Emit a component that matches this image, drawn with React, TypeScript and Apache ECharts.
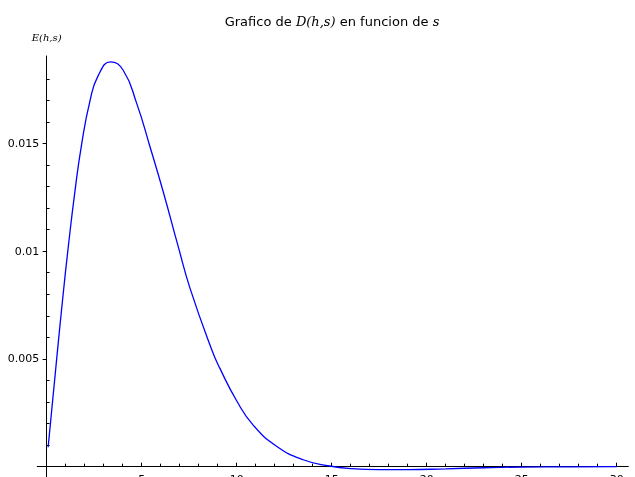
import React, { useEffect, useRef } from "react";
import * as echarts from "echarts";

const sValues = [0.08, 0.53, 0.87, 1.14, 1.49, 1.84, 2.28, 2.72, 3.37, 4.03, 4.74, 5.44, 6.14, 6.93, 7.54, 8.7, 9.12, 10.0, 10.87, 12.1, 13.5, 14.9, 16.0, 17.5, 19.0, 21.0, 23.0, 25.0, 27.5, 30.0];
const eValues = [0.0009, 0.005, 0.008, 0.0102, 0.01278, 0.01495, 0.01697, 0.01816, 0.01879, 0.0184, 0.01686, 0.01485, 0.01275, 0.0102, 0.0083, 0.0054, 0.00456, 0.00306, 0.00193, 0.00095, 0.00032, 0.00003, -0.00009, -0.00014, -0.00014, -0.0001, -0.00005, -0.00002, -0.00001, 0];

const xMajorTicks = [5, 10, 15, 20, 25, 30];
const xMinorTicks = [1, 2, 3, 4, 6, 7, 8, 9, 11, 12, 13, 14, 16, 17, 18, 19, 21, 22, 23, 24, 26, 27, 28, 29];
const yMajorTicks = [0.005, 0.01, 0.015];
const yMinorTicks = [0.001, 0.002, 0.003, 0.004, 0.006, 0.007, 0.008, 0.009, 0.011, 0.012, 0.013, 0.014, 0.016, 0.017, 0.018];

const titlePlain = "Grafico de ";
const titleMath1 = "D(h,s)";
const titleMid = " en funcion de ";
const titleMath2 = "s";
const yName = "E(h,s)";

const X_MIN = -0.49;
const X_MAX = 30.61;
const Y_MIN = -0.00048;
const Y_MAX = 0.01906;

export default function App() {
  const ref = useRef<HTMLDivElement>(null);
  useEffect(() => {
    if (!ref.current) return;
    const chart = echarts.init(ref.current, null, { renderer: "svg" });
    const black = "#000";
    const labelFont = { color: black, fontSize: 11, fontFamily: "DejaVu Sans" };
    chart.setOption({
      animation: false,
      grid: { left: 37.3, right: 6.7, top: 56, bottom: 0, containLabel: false, outerBoundsMode: "none" },
      xAxis: [
        {
          type: "value",
          min: X_MIN,
          max: X_MAX,
          axisLine: { show: true, onZero: true, lineStyle: { color: black, width: 1 } },
          splitLine: { show: false },
          axisTick: { show: true, customValues: xMajorTicks, inside: true, length: 4, lineStyle: { color: black } },
          axisLabel: { customValues: xMajorTicks, margin: -3, ...labelFont },
        },
        {
          type: "value",
          min: X_MIN,
          max: X_MAX,
          position: "bottom",
          axisLine: { show: false, onZero: true },
          splitLine: { show: false },
          axisTick: { show: true, customValues: xMinorTicks, inside: true, length: 3, lineStyle: { color: black } },
          axisLabel: { show: false },
        },
      ],
      yAxis: [
        {
          type: "value",
          min: Y_MIN,
          max: Y_MAX,
          name: yName,
          nameLocation: "end",
          nameGap: 14,
          nameTextStyle: { color: black, fontFamily: "DejaVu Serif", fontStyle: "italic", fontSize: 10 },
          axisLine: { show: true, onZero: true, lineStyle: { color: black, width: 1 } },
          splitLine: { show: false },
          axisTick: { show: true, customValues: yMajorTicks, inside: false, length: 4, lineStyle: { color: black } },
          axisLabel: { customValues: yMajorTicks, margin: -2, formatter: (v: number) => String(v), ...labelFont },
        },
        {
          type: "value",
          min: Y_MIN,
          max: Y_MAX,
          position: "left",
          axisLine: { show: false, onZero: true },
          splitLine: { show: false },
          axisTick: { show: true, customValues: yMinorTicks, inside: true, length: 3, lineStyle: { color: black } },
          axisLabel: { show: false },
        },
      ],
      graphic: [
        {
          type: "text",
          x: 332,
          y: 21,
          style: {
            text: titlePlain + "{m|" + titleMath1 + "}" + titleMid + "{m|" + titleMath2 + "}",
            rich: { m: { fontFamily: "DejaVu Serif", fontStyle: "italic", fontSize: 13, fill: black } },
            fontFamily: "DejaVu Sans",
            fontSize: 13,
            fill: black,
            textAlign: "center",
            textVerticalAlign: "middle",
          },
        },
      ],
      series: [
        {
          type: "line",
          xAxisIndex: 0,
          yAxisIndex: 0,
          data: sValues.map((s, i) => [s, eValues[i]]),
          showSymbol: false,
          smooth: true,
          clip: false,
          lineStyle: { color: "#0000ff", width: 1.3 },
          itemStyle: { color: "#0000ff" },
        },
      ],
    });
    return () => chart.dispose();
  }, []);
  return <div ref={ref} style={{ position: "fixed", left: 0, top: 0, width: 635, height: 477 }} />;
}
